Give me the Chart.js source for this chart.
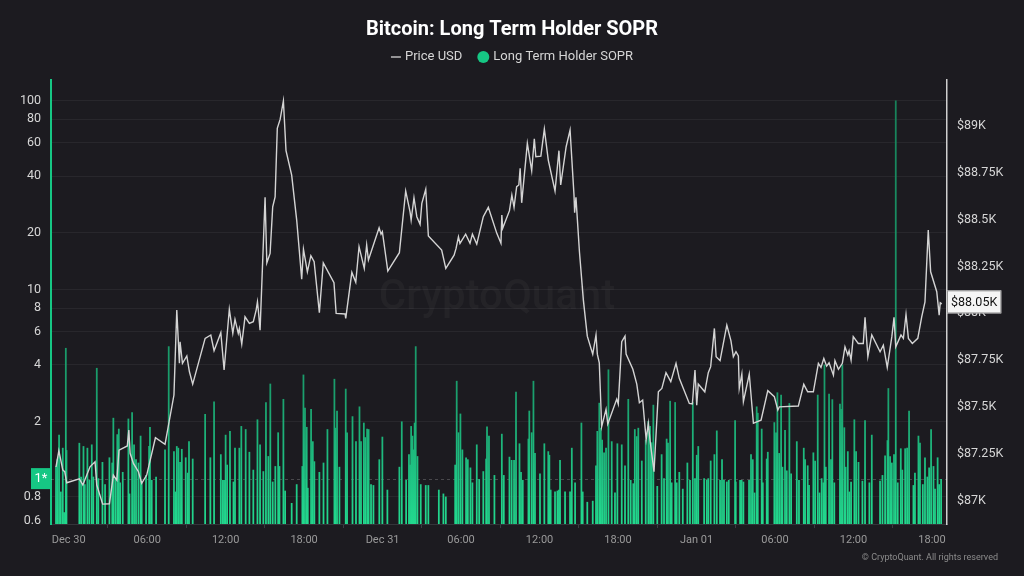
<!DOCTYPE html>
<html>
<head>
<meta charset="utf-8">
<script src="https://cdn.jsdelivr.net/npm/chart.js@4.4.1/dist/chart.umd.min.js"></script>
<style>
html, body { margin: 0; padding: 0; background: #1c1b20; }
#wrap { width: 1024px; height: 576px; position: relative; }
</style>
</head>
<body>
<div id="wrap"><canvas id="chart"></canvas></div>
<script>
// times are minutes since Dec 30 00:00
var priceTimes = [-58,-45,-27,-18,-9,49,65,98,121,129,156,187,205,221,231,269,276,282,297,320,
  335,358,398,442,483,496,508,511,522,542,554,569,626,652,667,698,713,737,753,763,
  778,783,794,809,829,847,860,866,870,878,901,909,924,936,947,957,970,985,997,1023,
  1046,1069,1077,1088,1095,1111,1126,1150,1168,1217,1227,1268,1271,1299,1317,1332,1356,1367,1375,1424,
  1433,1439,1464,1517,1546,1566,1571,1584,1597,1612,1620,1638,1650,1711,1730,1768,1777,1788,1795,1821,
  1841,1852,1872,1902,1925,1964,1983,1987,1991,2022,2033,2043,2055,2065,2071,2078,2104,2124,2136,2143,
  2166,2182,2200,2231,2249,2257,2282,2300,2318,2321,2327,2343,2361,2379,2404,2419,2425,2434,2445,2465,
  2473,2514,2521,2537,2552,2557,2588,2606,2618,2633,2649,2659,2667,2685,2705,2721,2740,2762,2786,2801,
  2847,2861,2873,2881,2888,2918,2934,2945,2962,2970,2988,3019,3038,3049,3061,3072,3076,3088,3095,3122,
  3141,3156,3176,3207,3237,3253,3260,3347,3372,3390,3416,3439,3451,3464,3477,3488,3508,3515,3531,3549,
  3561,3574,3580,3589,3599,3622,3645,3653,3666,3684,3722,3737,3755,3776,3786,3794,3818,3829,3841,3852,
  3870,3895,3913,3928,3943,3954,3982,3993,3998,4005];
var prices = [87181,87267,87164,87155,87096,87117,87084,87181,87208,87084,86982,86984,87137,87110,87270,87292,87377,87253,87199,87155,
  87093,87137,87336,87301,87564,88017,87733,87848,87733,87772,87688,87622,87866,87884,87800,87896,87697,88021,87893,87967,
  87893,87919,87836,87981,87946,87955,88017,88061,88017,87910,88618,88269,88319,88568,88621,88986,89034,89133,88867,88737,
  88497,88182,88341,88269,88221,88307,88275,88003,88269,88163,87999,87996,87973,88218,88165,88355,88239,88364,88284,88456,
  88422,88435,88225,88323,88652,88541,88497,88616,88515,88474,88586,88661,88412,88337,88239,88310,88346,88408,88373,88422,
  88373,88422,88369,88515,88565,88426,88373,88524,88453,88547,88630,88565,88675,88684,88773,88589,88906,88760,88931,88835,
  88838,88982,88817,88652,88867,88684,88888,88977,88630,88536,88618,88328,88070,87878,87782,87884,87782,87736,87395,87487,
  87409,87542,87516,87848,87878,87782,87701,87622,87523,87537,87327,87413,87320,87155,87581,87599,87683,87635,87733,87653,
  87519,87516,87697,87510,87622,87581,87683,87715,87919,87768,87747,87937,87853,87768,87795,87772,87599,87676,87528,87676,
  87413,87421,87430,87587,87555,87484,87501,87505,87621,87581,87581,87733,87711,87759,87718,87736,87670,87747,87701,87733,
  87821,87777,87800,87750,87875,87839,87839,87978,87768,87884,87795,87830,87711,87875,87978,87821,87884,87866,87994,87866,
  87839,87866,87981,88061,88444,88221,88115,87990,88056,88050];

var soprTimes = [-58,-52,-44,-36,-27,-21,-13,-10,49,57,68,74,86,95,106,113,129,136,155,167,
  187,200,205,214,223,230,236,248,274,279,291,300,309,320,330,335,355,369,373,381,
  401,442,459,483,490,496,503,511,519,537,546,552,569,626,650,667,698,707,713,720,
  727,740,756,763,783,792,812,829,847,866,878,893,905,916,925,936,948,961,967,
  985,993,1023,1046,1072,1077,1084,1092,1097,1112,1120,1127,1150,1169,1187,1219,1224,1231,1242,
  1271,1277,1302,1318,1334,1341,1354,1360,1369,1376,1387,1398,1425,1439,1462,1517,1528,1548,1561,1566,
  1571,1577,1581,1587,1592,1600,1615,1638,1650,1698,1719,1730,1773,1780,1788,1797,1806,1823,1831,1843,
  1852,1872,1883,1902,1915,1919,1928,1953,1987,1996,
  2022,2032,2043,2052,2068,2075,2083,2109,2113,2124,2132,2139,2162,2182,2200,2205,2211,2231,2242,2249,
  2254,2277,2300,2308,2323,2352,2358,2379,2404,2419,2425,2434,2441,2447,2456,2465,2476,2491,2506,2517,
  2537,2552,2567,2578,2590,2597,2606,2613,2629,2647,2659,2667,2674,2682,2700,2720,2731,2743,2749,2759,
  2766,2782,2789,2801,2817,2838,2850,2863,2873,2881,2888,2915,2927,2934,2945,2962,2973,2988,2997,3006,3019,3028,
  3057,3060,3080,3087,3095,3121,3130,3138,3146,3156,3161,3179,3184,3202,3207,3237,3245,3251,3259,3268,
  3274,3286,3294,3306,3314,3340,3350,3372,3378,3390,3396,3416,3424,3436,3444,3454,3462,3467,3473,3488,
  3497,3503,3512,3538,3543,3549,3558,3564,3574,3581,3589,3604,3612,3623,3641,3653,3673,3684,3722,3733,
  3745,3756,3760,3768,3776,3786,3794,3803,3817,3824,3837,3846,3855,3875,3882,3898,3905,3918,3928,3939,
  3947,3956,3967,3974,3986,3993,4002];
var soprValues = [1.16,1.26,1.70,0.85,1.45,0.66,4.9,1.41,1.54,1.02,1.48,0.93,1.45,0.98,1.51,1.02,3.84,1.00,1.22,0.93,
  1.29,1.21,2.09,1.00,1.71,1.83,0.95,1.08,2.07,0.83,2.24,1.51,1.26,1.21,1.68,0.95,1.04,1.48,1.87,0.98,
  1.02,1.42,5.0,1.39,0.85,1.48,1.45,1.22,1.43,1.29,1.07,1.57,1.27,2.19,1.29,2.55,1.34,0.98,0.98,1.70,
  1.18,1.78,0.96,1.45,1.45,1.89,1.82,1.38,1.11,2.05,1.51,1.09,2.53,1.31,3.17,0.96,1.16,1.75,1.16,
  2.63,0.86,0.74,0.93,1.16,3.54,2.36,1.87,0.89,2.33,1.57,1.23,1.08,1.21,1.82,3.36,1.85,2.28,1.15,
  2.98,1.75,2.13,1.57,2.40,1.57,1.97,1.65,1.83,1.82,0.93,0.92,1.26,1.66,0.87,1.15,2.0,0.98,1.34,1.18,
  1.89,1.68,1.42,1.97,5.0,1.31,0.93,0.92,0.92,0.87,0.83,0.80,1.18,3.28,1.75,2.2,1.42,1.29,1.26,1.14,
  0.95,1.51,0.99,1.09,1.27,1.88,1.68,1.04,1.72,1.04,
  1.30,1.25,1.25,2.87,1.53,1.08,0.98,1.62,2.28,1.75,3.28,1.36,1.06,1.53,1.39,1.33,0.87,0.85,0.86,0.87,
  1.25,0.85,0.85,1.45,0.95,1.97,0.85,0.75,0.76,1.17,1.78,2.51,1.85,1.60,1.37,1.45,3.77,1.57,0.84,1.53,
  1.51,1.17,2.63,0.98,0.94,1.82,1.67,1.85,1.24,1.60,2.01,1.89,1.55,2.45,0.91,1.34,1.00,1.62,1.54,2.57,
  0.95,2.53,0.95,1.08,0.88,1.21,0.98,2.53,1.00,1.33,1.48,1.00,0.98,1.00,1.24,1.34,1.79,0.98,1.26,0.98,0.96,0.98,
  2.03,0.96,0.98,0.98,0.96,0.98,1.34,1.26,0.84,2.40,2.22,1.83,0.95,1.27,1.38,1.98,1.75,2.85,1.36,2.77,
  1.15,1.80,1.10,2.50,1.06,1.57,0.98,1.45,1.26,1.17,0.92,1.37,1.24,2.77,0.84,1.00,0.95,4.0,1.15,2.8,
  1.26,2.62,0.95,2.48,2.33,4.0,1.86,1.15,1.39,0.85,0.96,2.05,1.39,1.22,0.97,2.03,0.95,1.70,0.97,1.04,
  1.32,1.59,3.0,1.31,1.21,1.34,100,0.95,1.44,1.11,1.44,1.45,2.28,0.92,1.07,1.68,1.54,0.93,1.29,1.02,
  1.14,1.82,1.16,0.88,1.29,0.93,0.99];

var timeTicks = [0,360,720,1080,1440,1800,2160,2520,2880,3240,3600,3960];
var timeLabels = ['Dec 30','06:00','12:00','18:00','Dec 31','06:00','12:00','18:00','Jan 01','06:00','12:00','18:00'];
var soprTicks = [0.6,0.8,1,2,4,6,8,10,20,40,60,80,100];
var priceTicks = [87000,87250,87500,87750,88000,88250,88500,88750,89000];

Chart.defaults.font.family = 'Roboto';
Chart.defaults.color = '#d6d6d6';

function barFill(ctx) {
  var a = ctx.chart.chartArea;
  if (!a) return '#1a9e6c';
  var g = ctx.chart.ctx.createLinearGradient(0, a.bottom, 0, a.top);
  g.addColorStop(0, '#22d98e');
  g.addColorStop(0.12, '#1fc283');
  g.addColorStop(0.3, '#1a9e6c');
  g.addColorStop(1, '#177f58');
  return g;
}

var extras = {
  id: 'extras',
  beforeDraw: function(chart) {
    var c = chart.ctx;
    c.save();
    c.fillStyle = '#1c1b20';
    c.fillRect(0, 0, chart.width, chart.height);
    c.restore();
  },
  beforeDatasetsDraw: function(chart) {
    var c = chart.ctx, a = chart.chartArea;
    c.save();
    // watermark
    c.font = '500 42px Roboto';
    c.fillStyle = 'rgba(255,255,255,0.035)';
    c.textAlign = 'center';
    c.textBaseline = 'middle';
    c.fillText('CryptoQuant', 497, 298);
    // dashed line at 1
    var y1 = chart.scales.y.getPixelForValue(1);
    c.strokeStyle = 'rgba(255,255,255,0.2)';
    c.lineWidth = 1;
    c.setLineDash([3, 3]);
    c.beginPath();
    c.moveTo(a.left, Math.round(y1) + 0.5);
    c.lineTo(a.right, Math.round(y1) + 0.5);
    c.stroke();
    c.restore();
  },
  afterDraw: function(chart) {
    var c = chart.ctx, a = chart.chartArea;
    c.save();
    // legend
    c.font = '13px Roboto';
    c.textBaseline = 'middle';
    c.textAlign = 'left';
    var t1 = 'Price USD', t2 = 'Long Term Holder SOPR';
    var w1 = c.measureText(t1).width, w2 = c.measureText(t2).width;
    var total = 10 + 4 + w1 + 15 + 12 + 4 + w2;
    var x = 512 - total / 2, ly = 57;
    c.strokeStyle = '#bdbdbd';
    c.lineWidth = 1.5;
    c.beginPath(); c.moveTo(x, ly); c.lineTo(x + 10, ly); c.stroke();
    x += 14;
    c.fillStyle = '#d6d6d6';
    c.fillText(t1, x, ly);
    x += w1 + 15;
    c.fillStyle = '#16c784';
    c.beginPath(); c.arc(x + 6, ly, 6, 0, Math.PI * 2); c.fill();
    x += 16;
    c.fillStyle = '#d6d6d6';
    c.fillText(t2, x, ly);

    // "1*" marker on the left axis
    var y1 = chart.scales.y.getPixelForValue(1);
    c.fillStyle = '#16c784';
    c.fillRect(a.left - 20, y1 - 10.5, 20, 21);
    c.fillStyle = '#ffffff';
    c.font = '13px Roboto';
    c.textAlign = 'center';
    c.fillText('1*', a.left - 10, y1 + 0.5);

    // last price label
    var last = prices[prices.length - 1];
    var py = chart.scales.yPrice.getPixelForValue(last) - 2;
    var txt = '$' + (last / 1000).toFixed(2) + 'K';
    c.font = '12.5px Roboto';
    var bw = c.measureText(txt).width + 8;
    c.fillStyle = '#f5f5f5';
    c.fillRect(a.right, py - 11.5, bw, 23);
    c.strokeStyle = '#9a9a9a';
    c.lineWidth = 1;
    c.strokeRect(a.right + 0.5, py - 11, bw - 1, 22);
    c.fillStyle = '#111111';
    c.textAlign = 'left';
    c.fillText(txt, a.right + 4, py + 0.5);

    // copyright
    c.font = '9px Roboto';
    c.fillStyle = '#8c8c8c';
    c.textAlign = 'right';
    c.fillText('\u00a9 CryptoQuant. All rights reserved', 998, 558);
    c.restore();
  }
};

var ctx = document.getElementById('chart').getContext('2d');
var myChart = new Chart(ctx, {
  type: 'bar',
  data: {
    datasets: [{
      type: 'line',
      label: 'Price USD',
      data: priceTimes.map(function(t, i) { return {x: t, y: prices[i]}; }),
      yAxisID: 'yPrice',
      borderColor: '#d4d4d4',
      borderWidth: 1.4,
      pointRadius: 0,
      tension: 0,
      order: 0
    }, {
      type: 'bar',
      label: 'Long Term Holder SOPR',
      data: soprTimes.map(function(t, i) { return {x: t, y: soprValues[i]}; }),
      yAxisID: 'y',
      backgroundColor: barFill,
      borderWidth: 0,
      barThickness: 1.1,
      order: 1
    }]
  },
  options: {
    responsive: true,
    maintainAspectRatio: false,
    animation: false,
    layout: {padding: 0},
    scales: {
      x: {
        type: 'linear',
        min: -81,
        max: 4029,
        offset: false,
        afterBuildTicks: function(s) { s.ticks = timeTicks.map(function(v) { return {value: v}; }); },
        afterFit: function(s) { s.height = 52; },
        grid: {drawOnChartArea: false, drawTicks: true, tickLength: 4, tickColor: '#3c3c42'},
        border: {color: '#34343a'},
        ticks: {
          color: '#9a9a9a', font: {size: 11}, padding: 6, maxRotation: 0, autoSkip: false,
          callback: function(v) { return timeLabels[timeTicks.indexOf(v)]; }
        }
      },
      y: {
        type: 'logarithmic',
        position: 'left',
        min: 0.575,
        max: 129,
        afterBuildTicks: function(s) { s.ticks = soprTicks.map(function(v) { return {value: v}; }); },
        afterFit: function(s) { s.width = 51; },
        grid: {
          drawTicks: false,
          color: function(c) {
            if (c.tick && (c.tick.value === 1 || c.tick.value === 0.6)) return 'rgba(0,0,0,0)';
            return 'rgba(255,255,255,0.055)';
          }
        },
        border: {color: '#16c784', width: 2},
        ticks: {
          color: '#d6d6d6', font: {size: 12.5}, padding: 10, autoSkip: false,
          callback: function(v) { return v === 1 ? '' : String(v); }
        }
      },
      yPrice: {
        type: 'linear',
        position: 'right',
        min: 86876,
        max: 89244,
        afterBuildTicks: function(s) { s.ticks = priceTicks.map(function(v) { return {value: v}; }); },
        afterFit: function(s) { s.width = 77; },
        grid: {drawOnChartArea: false, drawTicks: false},
        border: {color: '#cfcfcf', width: 1.5},
        ticks: {
          color: '#d6d6d6', font: {size: 12.5}, padding: 10, autoSkip: false,
          callback: function(v) { return '$' + (v / 1000) + 'K'; }
        }
      }
    },
    plugins: {
      title: {
        display: true,
        text: 'Bitcoin: Long Term Holder SOPR',
        color: '#ffffff',
        font: {size: 20, weight: 'bold'},
        padding: {top: 18, bottom: 38}
      },
      legend: {display: false},
      tooltip: {enabled: false}
    }
  },
  plugins: [extras]
});
</script>
</body>
</html>
